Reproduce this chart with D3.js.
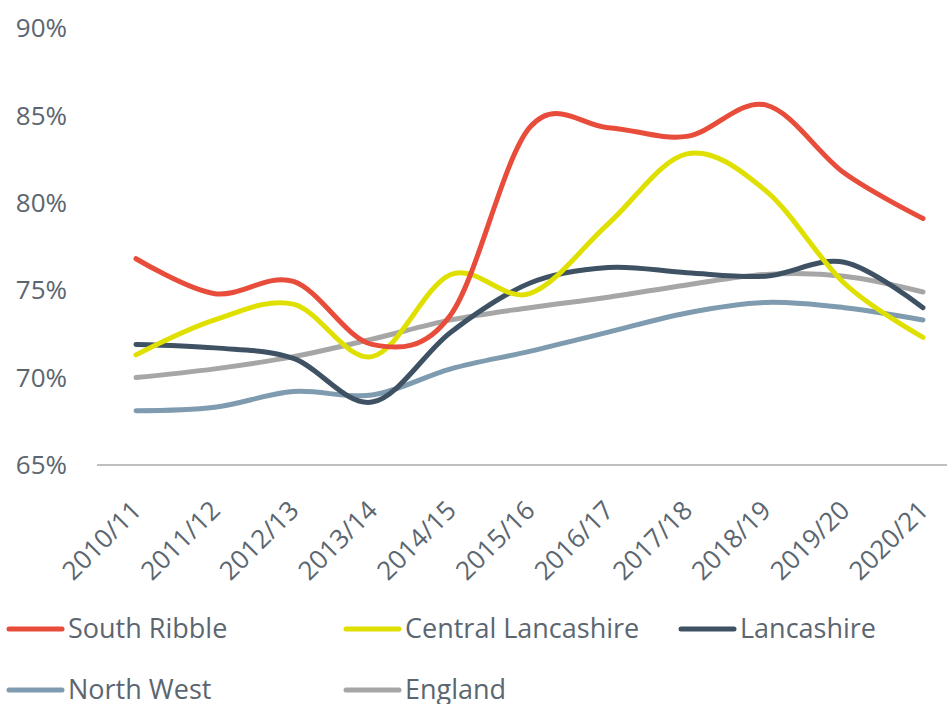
<!DOCTYPE html>
<html>
<head>
<meta charset="utf-8">
<script src="https://cdn.jsdelivr.net/npm/d3@7"></script>
<style>
  html, body { margin: 0; padding: 0; background: #fff; }
  svg { display: block; }
  text { font-family: "Open Sans", sans-serif; fill: #5b6670; }
</style>
</head>
<body>
<svg id="chart" width="947" height="704"></svg>
<script>
const categories = ["2010/11","2011/12","2012/13","2013/14","2014/15","2015/16","2016/17","2017/18","2018/19","2019/20","2020/21"];
const southRibble = [76.8, 74.8, 75.5, 71.9, 73.6, 84.3, 84.3, 83.8, 85.6, 81.7, 79.1];
const centralLancashire = [71.3, 73.3, 74.2, 71.2, 75.9, 74.8, 78.8, 82.8, 80.7, 75.4, 72.3];
const lancashire = [71.9, 71.7, 71.1, 68.6, 72.6, 75.4, 76.3, 76.0, 75.8, 76.6, 74.0];
const northWest = [68.1, 68.3, 69.2, 69.0, 70.5, 71.5, 72.6, 73.7, 74.3, 74.0, 73.3];
const england = [70.0, 70.5, 71.2, 72.2, 73.3, 74.0, 74.6, 75.3, 75.9, 75.8, 74.9];
const yTicks = [65, 70, 75, 80, 85, 90];
const seriesNames = ["South Ribble", "Central Lancashire", "Lancashire", "North West", "England"];
const seriesColors = ["#e84c3a", "#dfe000", "#3e5263", "#7f9bb0", "#a6a6a6"];

const series = [southRibble, centralLancashire, lancashire, northWest, england].map((v, i) => ({
  name: seriesNames[i], color: seriesColors[i], values: v
}));

const svg = d3.select("#chart");
const x = d3.scalePoint().domain(categories).range([136, 923]);
const y = d3.scaleLinear().domain([65, 90]).range([465, 28]);

// y labels
svg.append("g").selectAll("text").data(yTicks).join("text")
  .attr("x", 67).attr("y", d => y(d)).attr("dy", "0.35em")
  .attr("text-anchor", "end").attr("font-size", 26)
  .text(d => d + "%");

// x axis line
svg.append("line").attr("x1", 97).attr("x2", 962).attr("y1", 465).attr("y2", 465)
  .attr("stroke", "#bfbfbf").attr("stroke-width", 2);

// x labels
svg.append("g").selectAll("text").data(categories).join("text")
  .attr("transform", d => `translate(${x(d) + 7},${512}) rotate(-45)`)
  .attr("text-anchor", "end").attr("font-size", 26)
  .text(d => d);

// lines
const line = d3.line()
  .x((d, i) => x(categories[i]))
  .y(d => y(d))
  .curve(d3.curveCatmullRom.alpha(0));

svg.append("g").selectAll("path").data(series.slice().reverse()).join("path")
  .attr("d", d => line(d.values))
  .attr("fill", "none")
  .attr("stroke", d => d.color)
  .attr("stroke-width", 5)
  .attr("stroke-linecap", "round")
  .attr("stroke-linejoin", "round");

// legend
const legendPos = [[7, 629], [344, 629], [679, 629], [7, 690], [344, 690]];
const lg = svg.append("g").selectAll("g").data(series).join("g")
  .attr("transform", (d, i) => `translate(${legendPos[i][0]},${legendPos[i][1]})`);
lg.append("line").attr("x1", 2).attr("x2", 55).attr("y1", 0).attr("y2", 0)
  .attr("stroke", d => d.color).attr("stroke-width", 5).attr("stroke-linecap", "round");
lg.append("text").attr("x", 61).attr("y", 9).attr("font-size", 27).text(d => d.name);
</script>
</body>
</html>
